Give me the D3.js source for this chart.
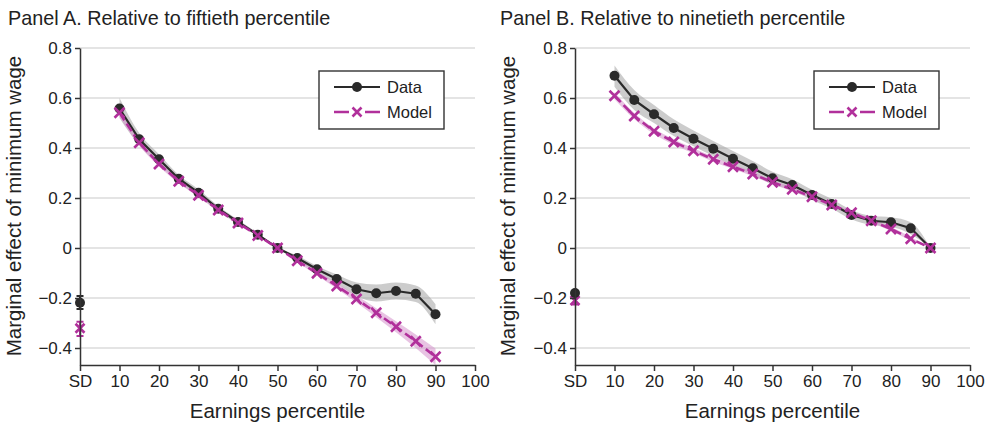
<!DOCTYPE html>
<html><head><meta charset="utf-8">
<script src="https://cdn.jsdelivr.net/npm/d3@7"></script>
<style>
html,body{margin:0;padding:0;background:#fff;}
text{font-family:"Liberation Sans",Arial,Helvetica,sans-serif;fill:#222;}
</style></head>
<body>
<svg id="chart" width="988" height="426"></svg>
<script>
// ---------- data ----------
const percentiles = [10,15,20,25,30,35,40,45,50,55,60,65,70,75,80,85,90];
const xTickValues = [0,10,20,30,40,50,60,70,80,90,100];
const xTickLabels = ["SD","10","20","30","40","50","60","70","80","90","100"];
const yTickValues = [-0.4,-0.2,0,0.2,0.4,0.6,0.8];
const yTickLabels = ["\u22120.4","\u22120.2","0","0.2","0.4","0.6","0.8"];
const panelTitles = ["Panel A. Relative to fiftieth percentile","Panel B. Relative to ninetieth percentile"];
const seriesNames = ["Data","Model"];

// Panel A
const dataA   = [0.558,0.435,0.355,0.277,0.221,0.157,0.104,0.053,0,-0.040,-0.085,-0.124,-0.165,-0.181,-0.172,-0.183,-0.265];
const dataALo = [0.520,0.410,0.335,0.262,0.207,0.146,0.095,0.047,0,-0.050,-0.098,-0.142,-0.192,-0.214,-0.206,-0.216,-0.305];
const dataAHi = [0.600,0.460,0.375,0.292,0.235,0.168,0.113,0.059,0,-0.030,-0.072,-0.106,-0.138,-0.146,-0.138,-0.150,-0.225];
const modelA   = [0.541,0.421,0.336,0.267,0.211,0.152,0.100,0.050,0,-0.051,-0.101,-0.152,-0.204,-0.259,-0.315,-0.373,-0.435];
const modelALo = [0.525,0.410,0.326,0.259,0.205,0.148,0.097,0.048,0,-0.056,-0.109,-0.163,-0.218,-0.277,-0.337,-0.400,-0.468];
const modelAHi = [0.557,0.432,0.346,0.275,0.217,0.156,0.103,0.052,0,-0.046,-0.093,-0.141,-0.190,-0.241,-0.293,-0.346,-0.402];
const sdDataA  = [-0.219,-0.244,-0.192];   // value, low, high
const sdModelA = [-0.321,-0.352,-0.295];

// Panel B
const dataB   = [0.689,0.592,0.535,0.480,0.437,0.397,0.357,0.319,0.279,0.252,0.212,0.176,0.132,0.109,0.103,0.079,0];
const dataBLo = [0.645,0.552,0.500,0.448,0.407,0.368,0.328,0.292,0.255,0.230,0.192,0.157,0.115,0.092,0.085,0.055,0];
const dataBHi = [0.730,0.632,0.572,0.515,0.470,0.428,0.388,0.348,0.305,0.275,0.233,0.196,0.152,0.128,0.123,0.103,0];
const modelB   = [0.609,0.528,0.467,0.424,0.389,0.355,0.325,0.296,0.263,0.235,0.205,0.172,0.141,0.109,0.076,0.037,0];
const modelBLo = [0.595,0.516,0.456,0.413,0.379,0.345,0.316,0.287,0.255,0.227,0.197,0.165,0.134,0.102,0.068,0.030,0];
const modelBHi = [0.623,0.540,0.478,0.435,0.399,0.365,0.334,0.305,0.271,0.243,0.213,0.179,0.148,0.116,0.084,0.044,0];
const sdDataB  = [-0.180,-0.188,-0.172];
const sdModelB = [-0.210,-0.226,-0.196];

// ---------- drawing ----------
const svg = d3.select("#chart");
const DARK = "#2a2a2a", MAG = "#b1309b";
const panels = [
  {title:panelTitles[0], left:80, titleX:8, ylabX:21, data:dataA, dLo:dataALo, dHi:dataAHi, model:modelA, mLo:modelALo, mHi:modelAHi, sdD:sdDataA, sdM:sdModelA},
  {title:panelTitles[1], left:575, titleX:500, ylabX:515, data:dataB, dLo:dataBLo, dHi:dataBHi, model:modelB, mLo:modelBLo, mHi:modelBHi, sdD:sdDataB, sdM:sdModelB}
];

panels.forEach(p => {
  const x = d3.scaleLinear().domain([0,100]).range([p.left, p.left+395]);
  const y = d3.scaleLinear().domain([-0.468,0.8]).range([365,48]);
  const g = svg.append("g");

  // title
  svg.append("text").attr("x",p.titleX).attr("y",25).attr("font-size",19.8).text(p.title);

  // grid
  g.selectAll(".grid").data(yTickValues).enter().append("line")
    .attr("x1",x(0)).attr("x2",x(100)).attr("y1",d=>y(d)).attr("y2",d=>y(d))
    .attr("stroke","#c9c9c9").attr("stroke-width",1.2);

  // bands
  const area = (lo,hi) => d3.area().x((d,i)=>x(percentiles[i])).y0((d,i)=>y(lo[i])).y1((d,i)=>y(hi[i])).curve(d3.curveMonotoneX)(percentiles);
  g.append("path").attr("d",area(p.dLo,p.dHi)).attr("fill","#9a9a9a").attr("opacity",0.5);
  g.append("path").attr("d",area(p.mLo,p.mHi)).attr("fill","#d591cc").attr("opacity",0.55);

  // lines
  const line = vals => d3.line().x((d,i)=>x(percentiles[i])).y((d,i)=>y(vals[i]))(percentiles);
  g.append("path").attr("d",line(p.data)).attr("fill","none").attr("stroke",DARK).attr("stroke-width",2.2);
  g.append("path").attr("d",line(p.model)).attr("fill","none").attr("stroke",MAG).attr("stroke-width",2.6).attr("stroke-dasharray","9,4");

  // markers
  g.selectAll(".dm").data(percentiles).enter().append("circle")
    .attr("cx",d=>x(d)).attr("cy",(d,i)=>y(p.data[i])).attr("r",5).attr("fill",DARK);
  const cross = (sel, cx, cy, s) => {
    sel.append("path").attr("d",`M${cx-s},${cy-s}L${cx+s},${cy+s}M${cx-s},${cy+s}L${cx+s},${cy-s}`)
      .attr("stroke",MAG).attr("stroke-width",2.6).attr("fill","none");
  };
  percentiles.forEach((d,i)=>cross(g, x(d), y(p.model[i]), 5));

  // SD points with error bars
  const errbar = (vals, color) => {
    const cx = x(0);
    g.append("path").attr("d",`M${cx},${y(vals[1])}L${cx},${y(vals[2])}M${cx-3.5},${y(vals[1])}L${cx+3.5},${y(vals[1])}M${cx-3.5},${y(vals[2])}L${cx+3.5},${y(vals[2])}`)
      .attr("stroke",color).attr("stroke-width",2).attr("fill","none");
  };
  errbar(p.sdM, MAG);
  cross(g, x(0), y(p.sdM[0]), 4.5);
  errbar(p.sdD, DARK);
  g.append("circle").attr("cx",x(0)).attr("cy",y(p.sdD[0])).attr("r",5).attr("fill",DARK);

  // axes
  const yAxis = d3.axisLeft(y).tickValues(yTickValues).tickFormat((d,i)=>yTickLabels[i]).tickSize(5).tickSizeOuter(0).tickPadding(3);
  const xAxis = d3.axisBottom(x).tickValues(xTickValues).tickFormat((d,i)=>xTickLabels[i]).tickSize(6).tickSizeOuter(0).tickPadding(4);
  const ya = g.append("g").attr("transform",`translate(${x(0)},0)`).call(yAxis);
  const xa = g.append("g").attr("transform",`translate(0,365)`).call(xAxis);
  [ya,xa].forEach(a=>{
    a.selectAll("path,line").attr("stroke","#333").attr("stroke-width",1.5);
    a.selectAll("text").attr("font-size",17).attr("fill","#222").attr("font-family",'"Liberation Sans",Arial,sans-serif');
  });

  // axis labels
  svg.append("text").attr("transform",`translate(${p.ylabX},206) rotate(-90)`).attr("text-anchor","middle").attr("font-size",20.5).text("Marginal effect of minimum wage");
  svg.append("text").attr("x",(x(0)+x(100))/2).attr("y",418).attr("text-anchor","middle").attr("font-size",20.5).text("Earnings percentile");

  // legend
  const lx = p.left + 239, ly = 71;
  const lg = svg.append("g");
  lg.append("rect").attr("x",lx).attr("y",ly).attr("width",125).attr("height",58).attr("fill","#fff").attr("stroke","#333").attr("stroke-width",1.4);
  lg.append("line").attr("x1",lx+15).attr("x2",lx+61).attr("y1",ly+16).attr("y2",ly+16).attr("stroke",DARK).attr("stroke-width",2.2);
  lg.append("circle").attr("cx",lx+38).attr("cy",ly+16).attr("r",5).attr("fill",DARK);
  lg.append("path").attr("d",`M${lx+15},${ly+41}L${lx+30},${ly+41}M${lx+46},${ly+41}L${lx+61},${ly+41}`).attr("stroke",MAG).attr("stroke-width",2.6);
  cross(lg, lx+38, ly+41, 4.5);
  lg.append("text").attr("x",lx+68).attr("y",ly+22).attr("font-size",16.5).text(seriesNames[0]);
  lg.append("text").attr("x",lx+68).attr("y",ly+47).attr("font-size",16.5).text(seriesNames[1]);
});
</script>
</body></html>
